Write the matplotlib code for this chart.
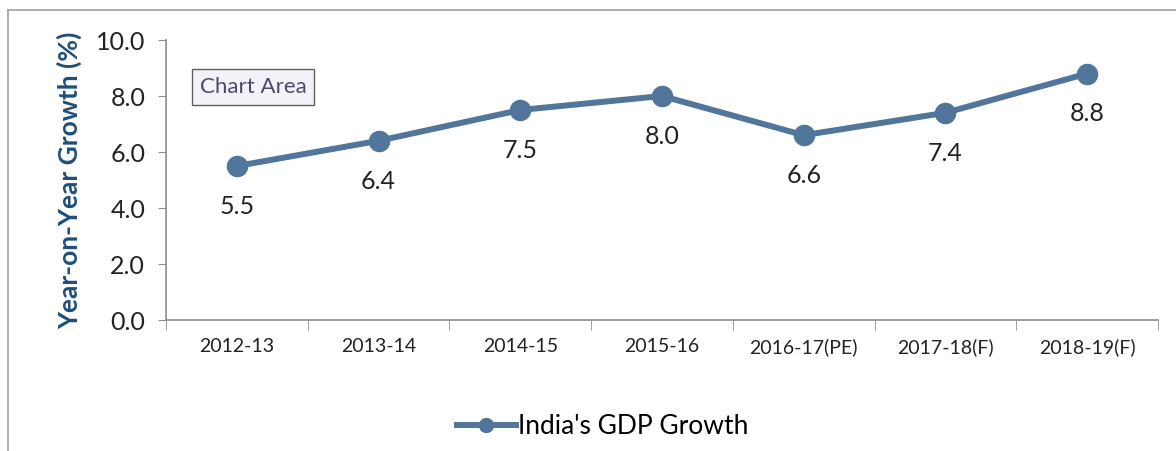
import numpy as np
from matplotlib import pyplot as plt
from matplotlib.lines import Line2D

# данные
years = ["2012-13", "2013-14", "2014-15", "2015-16", "2016-17(PE)", "2017-18(F)", "2018-19(F)"]
growth = [5.5, 6.4, 7.5, 8.0, 6.6, 7.4, 8.8]
y_ticks = [0.0, 2.0, 4.0, 6.0, 8.0, 10.0]

plt.rcParams['font.family'] = ['Lato', 'DejaVu Sans']
line_color = "#52759B"
axis_color = "#8C8C8C"

fig = plt.figure(figsize=(11.76, 4.51), dpi=100)
ax = fig.add_axes([166/1176, 1 - 320/451, (1158-166)/1176, 280/451])

x = np.arange(len(years))
ax.plot(x, growth, color=line_color, lw=4.3, marker='o', ms=14.5)

# подписи значений под точками
for xi, v in zip(x, growth):
    ax.annotate(f"{v:.1f}", (xi, v), xytext=(0, -29), textcoords='offset points',
                ha='center', va='center', fontsize=18, color='#222222')

ax.set_xlim(-0.5, len(years) - 0.5)
ax.set_ylim(0, 10)
ax.set_yticks(y_ticks)
ax.set_yticklabels([f"{t:.1f}" for t in y_ticks], fontsize=18, color='#222222')
ax.set_xticks(x)
ax.set_xticklabels(years, fontsize=14, color='#222222')
ax.set_xticks(np.arange(-0.5, len(years)), minor=True)
ax.tick_params(axis='x', which='major', length=0, pad=13)
ax.tick_params(axis='x', which='minor', length=7, color=axis_color)
ax.tick_params(axis='y', length=6, color=axis_color, pad=9)

for s in ['top', 'right']:
    ax.spines[s].set_visible(False)
for s in ['left', 'bottom']:
    ax.spines[s].set_color(axis_color)
    ax.spines[s].set_linewidth(1.2)

ax.set_ylabel("Year-on-Year Growth (%)", fontsize=19, fontweight='bold', color='#1F4E79', labelpad=10)

handle = Line2D([], [], color=line_color, lw=4.3, marker='o', ms=10)
ax.legend([handle], ["India's GDP Growth"], loc='center', bbox_to_anchor=(603/1176, 1 - 427/451),
          bbox_transform=fig.transFigure, frameon=False, fontsize=19,
          handlelength=2.2, handletextpad=0.1, borderaxespad=0)

# всплывающая подпись "Chart Area"
fig.text(253/1176, 1 - 87/451, "Chart Area", ha='center', va='center', fontsize=16, color='#4a4a6a',
         bbox=dict(boxstyle='square,pad=0.35', fc='#F2F2F8', ec='#606060', lw=1))

# рамка области диаграммы
fig.add_artist(Line2D([8/1176, 1], [1 - 10/451, 1 - 10/451], color='#A0A0A0', lw=1.2, transform=fig.transFigure))
fig.add_artist(Line2D([8/1176, 8/1176], [0, 1 - 10/451], color='#A0A0A0', lw=1.2, transform=fig.transFigure))

plt.savefig("out.png")
